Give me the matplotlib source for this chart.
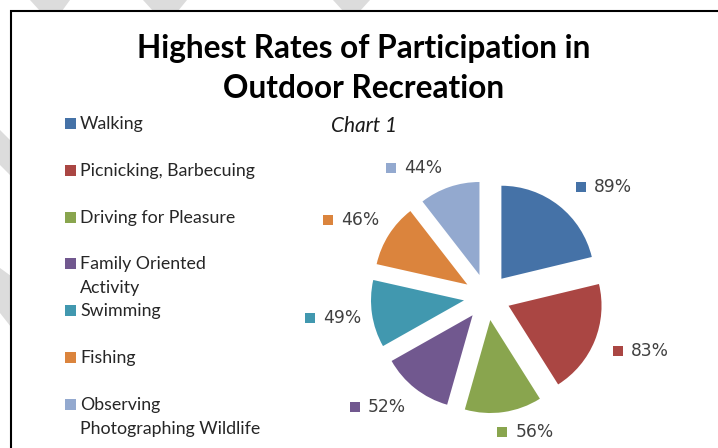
import textwrap
import numpy as np
import matplotlib
matplotlib.use("Agg")
import matplotlib.pyplot as plt
from matplotlib.patches import Polygon, Rectangle
from matplotlib.offsetbox import AnnotationBbox, HPacker, TextArea, DrawingArea

# ---------------- data ----------------
categories = ["Walking", "Picnicking, Barbecuing", "Driving for Pleasure",
              "Family Oriented Activity", "Swimming", "Fishing",
              "Observing Photographing Wildlife"]
values = [89, 83, 56, 52, 49, 46, 44]
colors = ["#4572A7", "#AA4643", "#89A54E", "#71588F", "#4198AF", "#DB843D", "#93A9CF"]
title_lines = ["Highest Rates of Participation in", "Outdoor Recreation"]
subtitle = "Chart 1"

# ---------------- figure ----------------
W, H = 718, 448
fig = plt.figure(figsize=(W / 100, H / 100), dpi=100)
fig.patch.set_facecolor("white")

# background / decoration axes in pixel coordinates (y downward)
bg = fig.add_axes([0, 0, 1, 1])
bg.set_xlim(0, W)
bg.set_ylim(H, 0)
bg.axis("off")

wm = "#dcdcdc"
deco = [
    [(30, 0), (70, 0), (62, 11), (40, 11)],
    [(143, 0), (187, 0), (178, 11), (153, 11)],
    [(333, 0), (370, 0), (360, 11), (343, 11)],
    [(0, 130), (0, 165), (11, 176), (11, 141)],
    [(0, 268), (0, 313), (11, 327), (11, 276)],
]
for p in deco:
    bg.add_patch(Polygon(p, closed=True, facecolor=wm, edgecolor="none"))
bg.plot([11, 11, W + 5], [H + 5, 11, 11], color="black", lw=1.5,
        solid_joinstyle="miter", solid_capstyle="butt")

# title
for i, line in enumerate(title_lines):
    bg.text(364, 58 + i * 40, line, ha="center", va="baseline",
            fontsize=22.8, fontweight="bold", family="Lato", color="black")
bg.text(364, 132, subtitle, ha="center", va="baseline", fontsize=15,
        style="italic", family="Lato", color="#1a1a1a")

# legend
leg_x, leg_y0, leg_step, line_step = 65, 129, 46.8, 24
for i, (cat, c) in enumerate(zip(categories, colors)):
    yb = leg_y0 + i * leg_step
    bg.add_patch(Rectangle((leg_x, yb - 11), 11, 11, facecolor=c, edgecolor="none"))
    for k, line in enumerate(textwrap.wrap(cat, 22)):
        bg.text(leg_x + 15, yb + k * line_step, line, ha="left", va="baseline",
                fontsize=12.8, family="Lato", color="#262626")

# ---------------- pie ----------------
R_px = 93.0
cx, cy = 487.0, 297.0
ax = fig.add_axes([0, 0, 1, 1])
ax.patch.set_alpha(0)
wedges, _ = ax.pie(values, colors=colors, startangle=90, counterclock=False,
                   explode=[0.25] * len(values), radius=1.0,
                   wedgeprops=dict(linewidth=0, edgecolor="none"), frame=True)
ax.set_aspect("auto")
ax.set_xlim(-cx / R_px, (W - cx) / R_px)
ax.set_ylim(-(H - cy) / R_px, cy / R_px)
ax.axis("off")

# data labels: anchored on a circle, box pushed outward with padding
R_lab = 121.0 / R_px
pad_x, pad_y, shift_x = 10.0, 6.0, 4.0   # pixels
px2pt = 0.72
for w, v, c in zip(wedges, values, colors):
    th = np.deg2rad((w.theta1 + w.theta2) / 2.0)
    x, y = R_lab * np.cos(th), R_lab * np.sin(th)
    s = 7.2
    da = DrawingArea(s, s, 0, 0)
    da.add_artist(Rectangle((0, 0), s, s, facecolor=c, edgecolor="none"))
    ta = TextArea(f"{v}%", textprops=dict(fontsize=12.3, color="#404040",
                                           family="DejaVu Sans"))
    box = HPacker(children=[da, ta], align="center", pad=0, sep=5.8)
    hal = float(np.clip(0.5 - 1.6 * np.cos(th), 0.0, 1.0))
    val = float(np.clip(0.5 - 0.75 * np.sin(th), 0.0, 1.0))
    ox = (pad_x * (1 - 2 * hal) + shift_x) * px2pt
    oy = (pad_y * (1 - 2 * val)) * px2pt
    ab = AnnotationBbox(box, (x, y), xycoords="data",
                        xybox=(ox, oy), boxcoords="offset points",
                        box_alignment=(hal, val),
                        frameon=False, pad=0)
    ax.add_artist(ab)

fig.savefig("out.png", dpi=100, facecolor="white")
